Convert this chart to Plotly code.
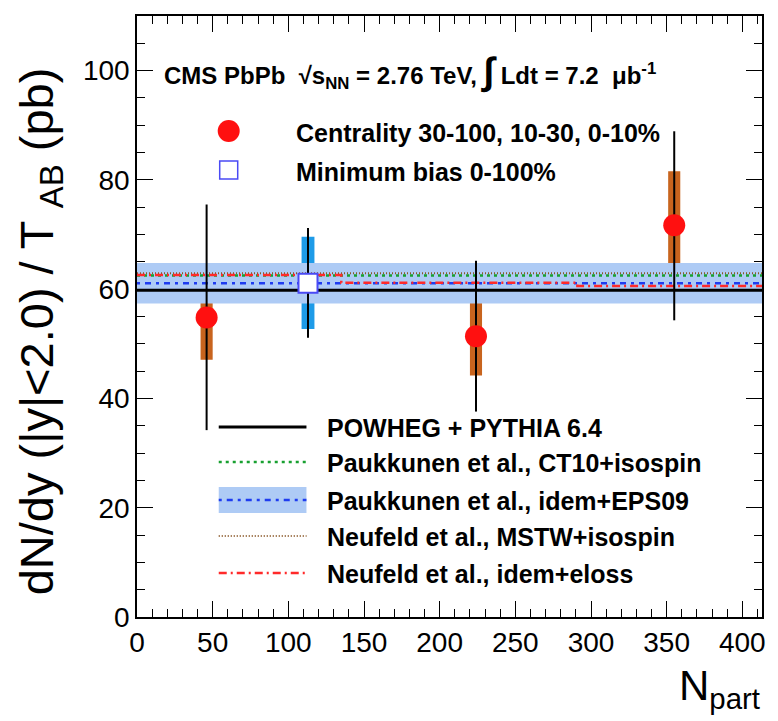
import plotly.graph_objects as go

# ---------------- data ----------------
npart_range = [0, 413]

# centrality-binned measurement
cent_npart = [46, 224, 355]
cent_y = [54.8, 51.4, 71.7]
cent_stat_lo = [34.2, 37.6, 54.3]
cent_stat_hi = [75.5, 65.2, 88.9]
cent_syst_lo = [47.1, 44.2, 61.6]
cent_syst_hi = [62.4, 58.6, 81.6]

# minimum bias
mb_npart = [113]
mb_y = [61.1]
mb_stat_lo = [51.1]
mb_stat_hi = [71.2]
mb_syst_lo = [52.7]
mb_syst_hi = [69.6]

# theory
powheg_y = [59.8, 59.8]
ct10_y = [62.5, 62.5]
eps09_y = [61.1, 61.1]
eps09_lo = [57.4, 57.4]
eps09_hi = [64.8, 64.8]
mstw_y = [62.9, 62.9]
eloss_x = [0, 135, 291, 413]
eloss_y = [62.6, 61.2, 60.6, 60.6]

x_ticks = [0, 50, 100, 150, 200, 250, 300, 350, 400]
y_ticks = [0, 20, 40, 60, 80, 100]

# ---------------- colours ----------------
C_RED = "#ff1010"
C_ORANGE = "#c8641e"
C_MBBOX = "#1e9be8"
C_MBLINE = "#4a4af5"
C_BAND = "#aecbf5"
C_BLUE = "#1e3cf0"
C_GREEN = "#18a030"
C_BROWN = "#8b5a2b"
C_ELOSS = "#ff2a2a"

FONT = "Liberation Sans, Arial, Helvetica, sans-serif"

fig = go.Figure()

# EPS09 band
fig.add_trace(go.Scatter(x=npart_range, y=eps09_hi, mode="lines",
                         line=dict(width=0), showlegend=False, hoverinfo="skip"))
fig.add_trace(go.Scatter(x=npart_range, y=eps09_lo, mode="lines",
                         line=dict(width=0), fill="tonexty", fillcolor=C_BAND,
                         showlegend=False, hoverinfo="skip"))
# theory lines
fig.add_trace(go.Scatter(x=npart_range, y=powheg_y, mode="lines",
                         line=dict(color="black", width=3), showlegend=False))
fig.add_trace(go.Scatter(x=npart_range, y=mstw_y, mode="lines",
                         line=dict(color=C_BROWN, width=2, dash="1px,2px"), showlegend=False))
fig.add_trace(go.Scatter(x=npart_range, y=ct10_y, mode="lines",
                         line=dict(color=C_GREEN, width=2.5, dash="3px,4px"), showlegend=False))
fig.add_trace(go.Scatter(x=npart_range, y=eps09_y, mode="lines",
                         line=dict(color=C_BLUE, width=2.5, dash="3px,5px,6px,5px"), showlegend=False))
fig.add_trace(go.Scatter(x=eloss_x, y=eloss_y, mode="lines", line_shape="hv",
                         line=dict(color=C_ELOSS, width=2.5, dash="8px,4px,2px,4px"), showlegend=False))

# systematic boxes
fig.add_trace(go.Bar(x=cent_npart,
                     y=[h - l for h, l in zip(cent_syst_hi, cent_syst_lo)],
                     base=cent_syst_lo, width=8, marker=dict(color=C_ORANGE, line=dict(width=0)),
                     showlegend=False))
fig.add_trace(go.Bar(x=mb_npart,
                     y=[h - l for h, l in zip(mb_syst_hi, mb_syst_lo)],
                     base=mb_syst_lo, width=8.5, marker=dict(color=C_MBBOX, line=dict(width=0)),
                     showlegend=False))

# points with stat errors
fig.add_trace(go.Scatter(
    x=cent_npart, y=cent_y, mode="markers",
    marker=dict(symbol="circle", size=22, color=C_RED, line=dict(width=0)),
    error_y=dict(type="data", symmetric=False,
                 array=[h - y for h, y in zip(cent_stat_hi, cent_y)],
                 arrayminus=[y - l for y, l in zip(cent_y, cent_stat_lo)],
                 color="black", thickness=2, width=0),
    showlegend=False))
fig.add_trace(go.Scatter(
    x=mb_npart, y=mb_y, mode="markers",
    marker=dict(symbol="square", size=19, color="white", line=dict(width=2, color=C_MBLINE)),
    error_y=dict(type="data", symmetric=False,
                 array=[h - y for h, y in zip(mb_stat_hi, mb_y)],
                 arrayminus=[y - l for y, l in zip(mb_y, mb_stat_lo)],
                 color="black", thickness=2, width=0),
    showlegend=False))

# ---------------- layout ----------------
L, R, T, B = 137, 14, 16, 104
W, H = 778, 721
PW, PH = W - L - R, H - T - B


def px(xp):
    return (xp - L) / PW


def py(yp):
    return (H - B - yp) / PH


axis_common = dict(showline=True, linecolor="black", linewidth=1.5, mirror="allticks",
                   ticks="inside", ticklen=16, tickwidth=1, tickcolor="black",
                   showgrid=False, zeroline=False,
                   tickfont=dict(family=FONT, size=28, color="black"))

fig.update_layout(
    width=W, height=H,
    margin=dict(l=L, r=R, t=T, b=B),
    paper_bgcolor="white", plot_bgcolor="white",
    barmode="overlay",
    showlegend=False,
    xaxis=dict(range=npart_range, tickvals=x_ticks,
               minor=dict(dtick=10, ticklen=8, ticks="inside", tickcolor="black", showgrid=False),
               **axis_common),
    yaxis=dict(range=[0, 110], tickvals=y_ticks,
               minor=dict(dtick=5, ticklen=8, ticks="inside", tickcolor="black", showgrid=False),
               **axis_common),
)

shapes = []
annotations = []

# axis titles
annotations.append(dict(
    text="dN/dy (|y|&lt;2.0) / T <sub>AB</sub> (pb)", textangle=-90,
    x=px(40), y=py(331), xref="paper", yref="paper", xanchor="center", yanchor="middle",
    showarrow=False, font=dict(family=FONT, size=47, color="black")))
annotations.append(dict(
    text="N<sub>part</sub>", x=1.0, y=py(660), xref="paper", yref="paper",
    xanchor="right", yanchor="top", showarrow=False,
    font=dict(family=FONT, size=42, color="black")))

# header
annotations.append(dict(
    text="CMS PbPb  √s<sub>NN</sub> = 2.76 TeV, <span style='font-size:38px'>∫</span> Ldt = 7.2  μb<sup>-1</sup>",
    x=px(162), y=py(71), xref="paper", yref="paper", xanchor="left", yanchor="middle",
    showarrow=False, font=dict(family=FONT, size=24, color="black", weight="bold")))

# top legend
shapes.append(dict(type="circle", xref="paper", yref="paper", xsizemode="pixel", ysizemode="pixel",
                   xanchor=px(229), yanchor=py(131), x0=-11, x1=11, y0=-11, y1=11,
                   fillcolor=C_RED, line=dict(width=0)))
shapes.append(dict(type="rect", xref="paper", yref="paper", xsizemode="pixel", ysizemode="pixel",
                   xanchor=px(229), yanchor=py(170), x0=-9, x1=9, y0=-9, y1=9,
                   fillcolor="white", line=dict(width=1.5, color=C_MBLINE)))
top_leg = [("Centrality 30-100, 10-30, 0-10%", 133), ("Minimum bias 0-100%", 172)]
for txt, yy in top_leg:
    annotations.append(dict(text=txt, x=px(295), y=py(yy), xref="paper", yref="paper",
                            xanchor="left", yanchor="middle", showarrow=False,
                            font=dict(family=FONT, size=25, color="black", weight="bold")))

# bottom legend
leg_items = [
    ("POWHEG + PYTHIA 6.4", 427, dict(color="black", width=3, dash="solid")),
    ("Paukkunen et al., CT10+isospin", 462, dict(color=C_GREEN, width=2.5, dash="3px,4px")),
    ("Paukkunen et al., idem+EPS09", 500, dict(color=C_BLUE, width=2.5, dash="3px,5px,6px,5px")),
    ("Neufeld et al., MSTW+isospin", 536, dict(color=C_BROWN, width=2, dash="1px,2px")),
    ("Neufeld et al., idem+eloss", 573, dict(color=C_ELOSS, width=2.5, dash="8px,4px,2px,4px")),
]
shapes.append(dict(type="rect", xref="paper", yref="paper", x0=px(219), x1=px(307),
                   y0=py(513), y1=py(487), fillcolor=C_BAND, line=dict(width=0), layer="above"))
for txt, yy, ln in leg_items:
    shapes.append(dict(type="line", xref="paper", yref="paper", x0=px(219), x1=px(307),
                       y0=py(yy), y1=py(yy), line=ln, layer="above"))
    annotations.append(dict(text=txt, x=px(326), y=py(yy + 1), xref="paper", yref="paper",
                            xanchor="left", yanchor="middle", showarrow=False,
                            font=dict(family=FONT, size=25, color="black", weight="bold")))

fig.update_layout(shapes=shapes, annotations=annotations)

fig.write_html("out.html")
